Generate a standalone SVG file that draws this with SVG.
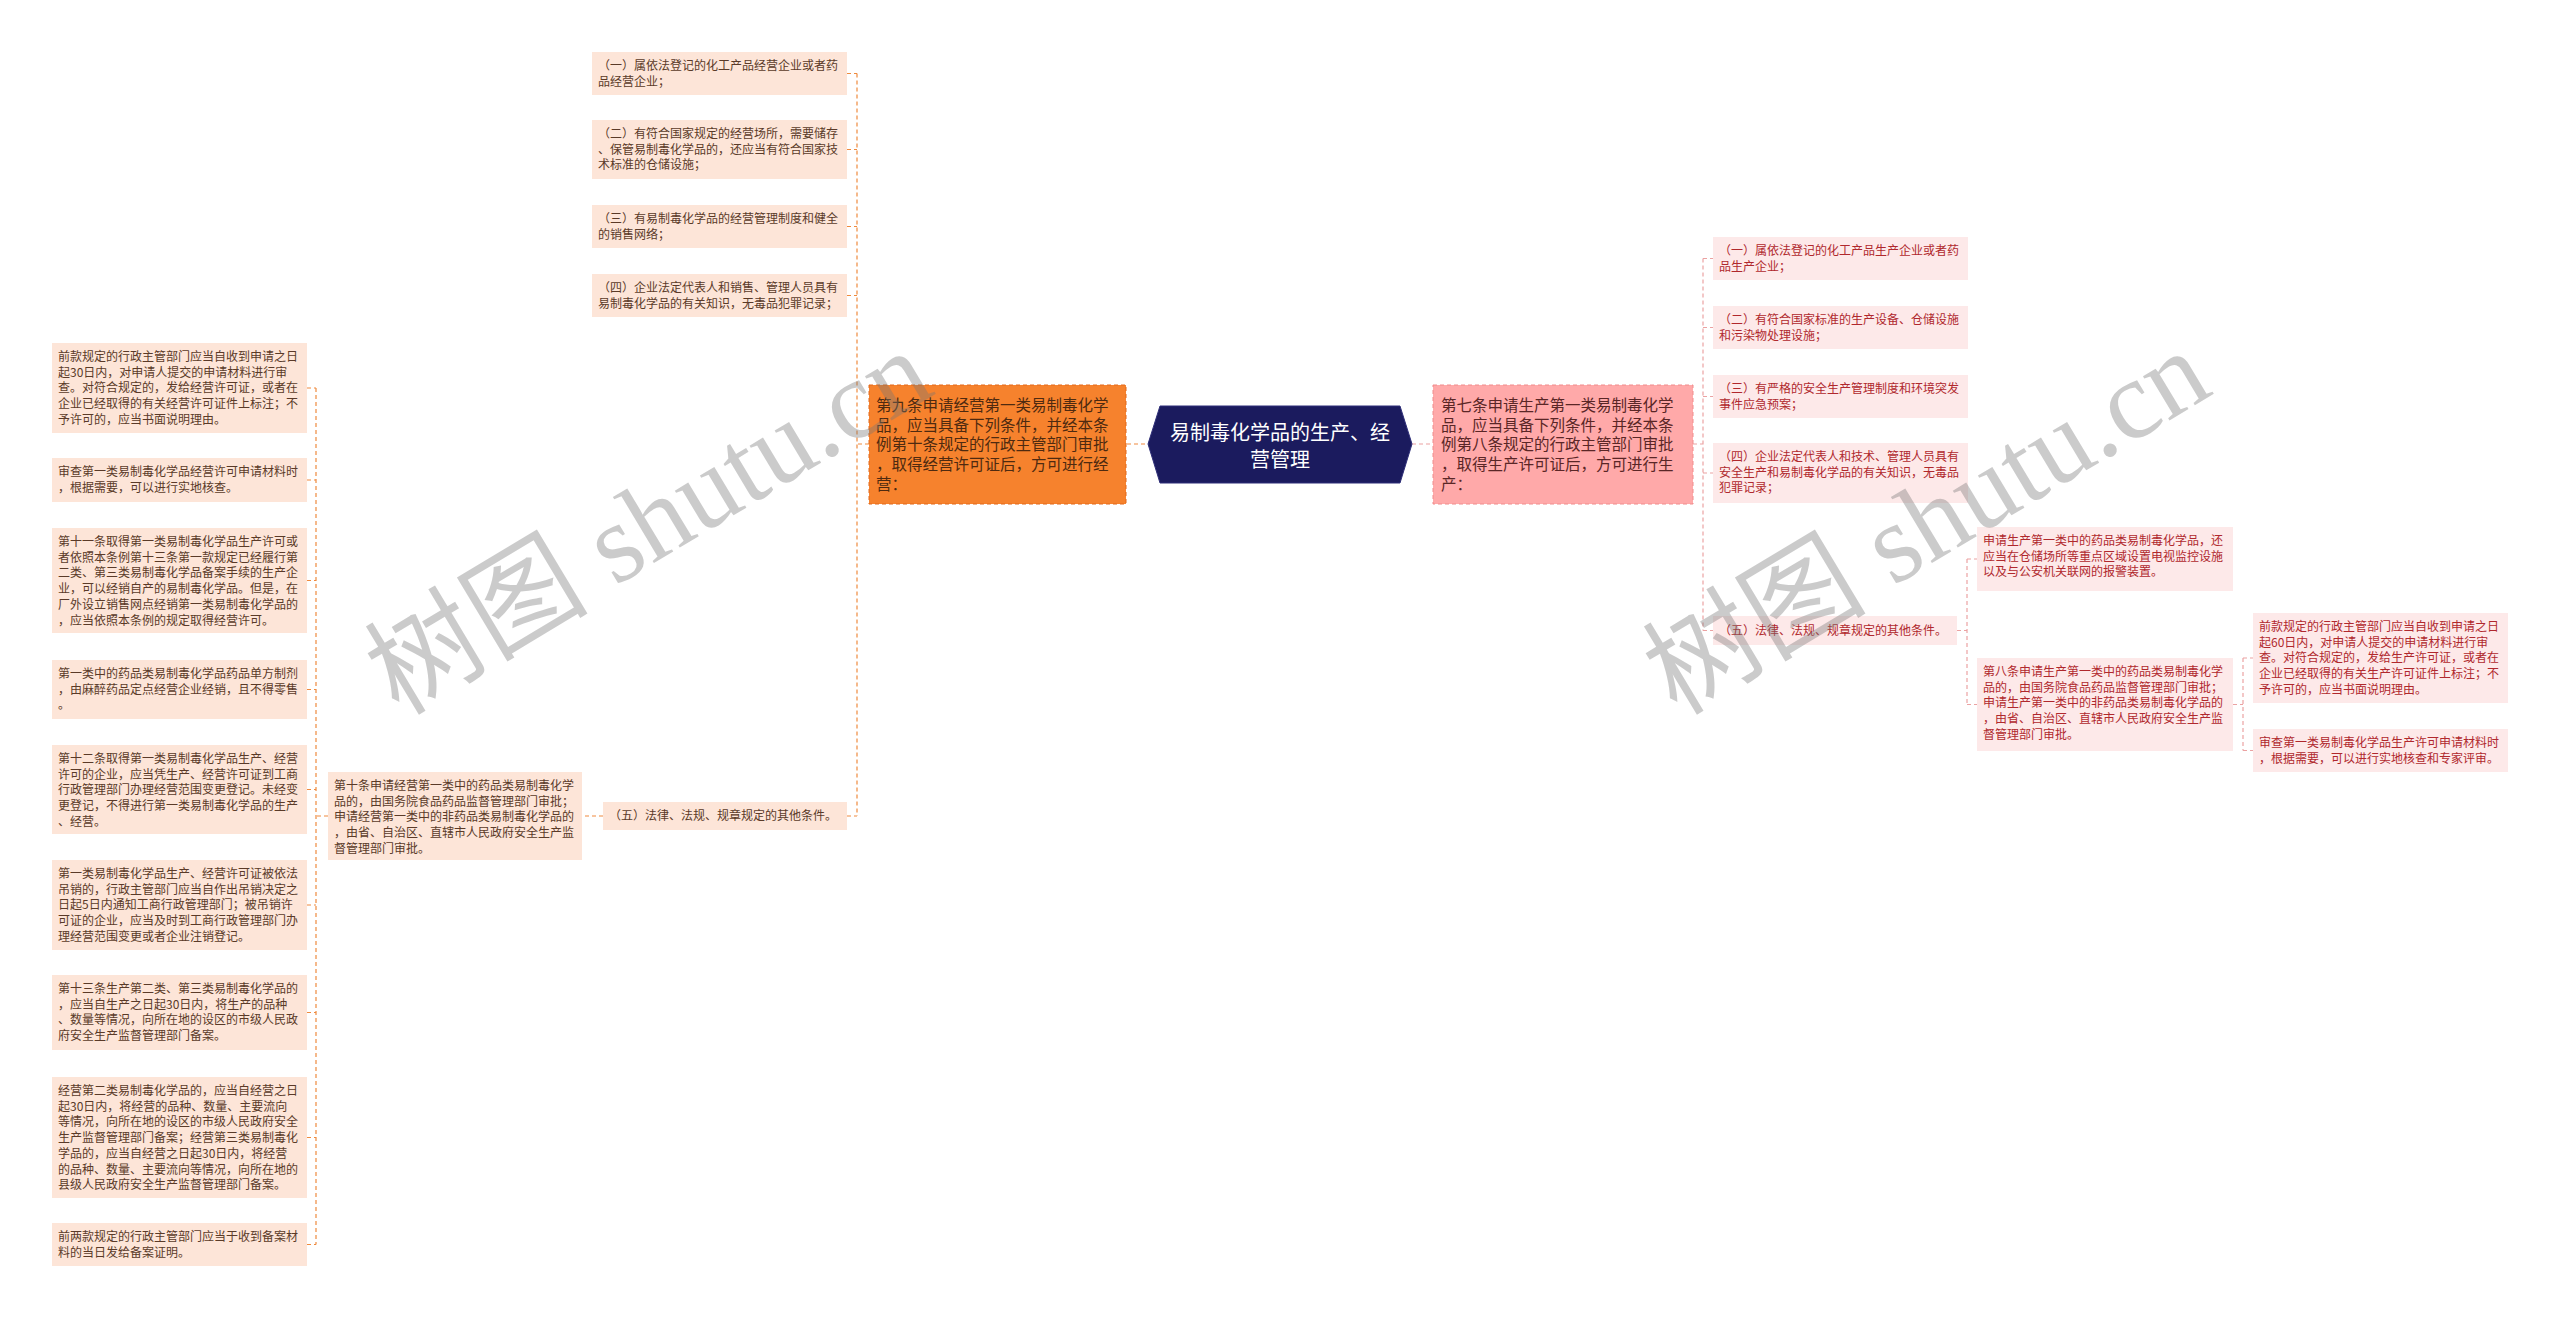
<svg xmlns="http://www.w3.org/2000/svg" width="2560" height="1318" viewBox="0 0 2560 1318">
<style>
text{font-family:"Noto Sans CJK SC","Noto Sans",sans-serif;}
.lb{fill:#fde5d8;}
.lt{font-size:12px;fill:#5a3a28;}
.rb{fill:#fde9e9;}
.rt{font-size:12px;fill:#b0282d;}
.cl{fill:none;stroke:#ef8a3e;stroke-width:1.2;stroke-dasharray:4 3;}
.cr{fill:none;stroke:#eba2a2;stroke-width:1.2;stroke-dasharray:4 3;}
.wm{font-family:"Liberation Serif","Noto Sans CJK SC",serif;font-size:112px;fill:#777;fill-opacity:0.38;}
</style>
<rect width="2560" height="1318" fill="#ffffff"/>

<g id="connectors">
<path class="cl" d="M1127,444H1148 M869,444H857 M857,73.5V816 M847,73.5H857 M847,149.5H857 M847,226.5H857 M847,295.5H857 M847,816H857 M603,816H582 M328,816H316 M316,388V1244.5 M307,388H316 M307,480H316 M307,580.5H316 M307,689.5H316 M307,789.5H316 M307,905H316 M307,1012.5H316 M307,1137.5H316 M307,1244.5H316"/>
<path class="cr" d="M1412,444H1433 M1693,444H1703 M1703,258.5V630.5 M1703,258.5H1713 M1703,327.5H1713 M1703,396.5H1713 M1703,473H1713 M1703,630.5H1713 M1957,630.5H1967 M1967,559V704.5 M1967,559H1977 M1967,704.5H1977 M2233,704.5H2243 M2243,658V750.5 M2243,658H2253 M2243,750.5H2253"/>
</g>

<g id="root">
<polygon points="1148,444 1160,406 1400,406 1412,444 1400,483 1160,483" fill="#1b1b5e" stroke="#2e2e78" stroke-width="1"/>
<text x="1280" y="440" text-anchor="middle" font-size="20" fill="#ffffff">易制毒化学品的生产、经</text>
<text x="1280" y="467" text-anchor="middle" font-size="20" fill="#ffffff">营管理</text>
</g>

<g id="n-left">
<rect x="869" y="385" width="257" height="119" fill="#f6822d" stroke="#e2691a" stroke-width="1" stroke-dasharray="4 3"/>
<text font-size="15.5" fill="#4e2a10">
<tspan x="876" y="411">第九条申请经营第一类易制毒化学</tspan>
<tspan x="876" y="430.7">品，应当具备下列条件，并经本条</tspan>
<tspan x="876" y="450.4">例第十条规定的行政主管部门审批</tspan>
<tspan x="876" y="470.1">，取得经营许可证后，方可进行经</tspan>
<tspan x="876" y="489.8">营：</tspan>
</text>
</g>

<g id="n-right">
<rect x="1433" y="385" width="260" height="119" fill="#ffa9a9" stroke="#f08c8c" stroke-width="1" stroke-dasharray="4 3"/>
<text font-size="15.5" fill="#5a2626">
<tspan x="1441" y="411">第七条申请生产第一类易制毒化学</tspan>
<tspan x="1441" y="430.7">品，应当具备下列条件，并经本条</tspan>
<tspan x="1441" y="450.4">例第八条规定的行政主管部门审批</tspan>
<tspan x="1441" y="470.1">，取得生产许可证后，方可进行生</tspan>
<tspan x="1441" y="489.8">产：</tspan>
</text>
</g>

<g id="l1"><rect class="lb" x="592" y="52" width="255" height="43"/>
<text class="lt"><tspan x="598" y="70">（一）属依法登记的化工产品经营企业或者药</tspan><tspan x="598" y="85.7">品经营企业；</tspan></text></g>
<g id="l2"><rect class="lb" x="592" y="120" width="255" height="59"/>
<text class="lt"><tspan x="598" y="138">（二）有符合国家规定的经营场所，需要储存</tspan><tspan x="598" y="153.7">、保管易制毒化学品的，还应当有符合国家技</tspan><tspan x="598" y="169.4">术标准的仓储设施；</tspan></text></g>
<g id="l3"><rect class="lb" x="592" y="205" width="255" height="43"/>
<text class="lt"><tspan x="598" y="223">（三）有易制毒化学品的经营管理制度和健全</tspan><tspan x="598" y="238.7">的销售网络；</tspan></text></g>
<g id="l4"><rect class="lb" x="592" y="274" width="255" height="43"/>
<text class="lt"><tspan x="598" y="292">（四）企业法定代表人和销售、管理人员具有</tspan><tspan x="598" y="307.7">易制毒化学品的有关知识，无毒品犯罪记录；</tspan></text></g>
<g id="l5"><rect class="lb" x="603" y="802" width="244" height="28"/>
<text class="lt"><tspan x="609" y="820">（五）法律、法规、规章规定的其他条件。</tspan></text></g>

<g id="l6"><rect class="lb" x="328" y="772" width="254" height="88"/>
<text class="lt"><tspan x="334" y="790">第十条申请经营第一类中的药品类易制毒化学</tspan><tspan x="334" y="805.7">品的，由国务院食品药品监督管理部门审批；</tspan><tspan x="334" y="821.4">申请经营第一类中的非药品类易制毒化学品的</tspan><tspan x="334" y="837.1">，由省、自治区、直辖市人民政府安全生产监</tspan><tspan x="334" y="852.8">督管理部门审批。</tspan></text></g>

<g id="c1"><rect class="lb" x="52" y="343" width="255" height="90"/>
<text class="lt"><tspan x="58" y="361">前款规定的行政主管部门应当自收到申请之日</tspan><tspan x="58" y="376.7">起30日内，对申请人提交的申请材料进行审</tspan><tspan x="58" y="392.4">查。对符合规定的，发给经营许可证，或者在</tspan><tspan x="58" y="408.1">企业已经取得的有关经营许可证件上标注；不</tspan><tspan x="58" y="423.8">予许可的，应当书面说明理由。</tspan></text></g>
<g id="c2"><rect class="lb" x="52" y="458" width="255" height="44"/>
<text class="lt"><tspan x="58" y="476">审查第一类易制毒化学品经营许可申请材料时</tspan><tspan x="58" y="491.7">，根据需要，可以进行实地核查。</tspan></text></g>
<g id="c3"><rect class="lb" x="52" y="528" width="255" height="105"/>
<text class="lt"><tspan x="58" y="546">第十一条取得第一类易制毒化学品生产许可或</tspan><tspan x="58" y="561.7">者依照本条例第十三条第一款规定已经履行第</tspan><tspan x="58" y="577.4">二类、第三类易制毒化学品备案手续的生产企</tspan><tspan x="58" y="593.1">业，可以经销自产的易制毒化学品。但是，在</tspan><tspan x="58" y="608.8">厂外设立销售网点经销第一类易制毒化学品的</tspan><tspan x="58" y="624.5">，应当依照本条例的规定取得经营许可。</tspan></text></g>
<g id="c4"><rect class="lb" x="52" y="660" width="255" height="59"/>
<text class="lt"><tspan x="58" y="678">第一类中的药品类易制毒化学品药品单方制剂</tspan><tspan x="58" y="693.7">，由麻醉药品定点经营企业经销，且不得零售</tspan><tspan x="58" y="709.4">。</tspan></text></g>
<g id="c5"><rect class="lb" x="52" y="745" width="255" height="89"/>
<text class="lt"><tspan x="58" y="763">第十二条取得第一类易制毒化学品生产、经营</tspan><tspan x="58" y="778.7">许可的企业，应当凭生产、经营许可证到工商</tspan><tspan x="58" y="794.4">行政管理部门办理经营范围变更登记。未经变</tspan><tspan x="58" y="810.1">更登记，不得进行第一类易制毒化学品的生产</tspan><tspan x="58" y="825.8">、经营。</tspan></text></g>
<g id="c6"><rect class="lb" x="52" y="860" width="255" height="90"/>
<text class="lt"><tspan x="58" y="878">第一类易制毒化学品生产、经营许可证被依法</tspan><tspan x="58" y="893.7">吊销的，行政主管部门应当自作出吊销决定之</tspan><tspan x="58" y="909.4">日起5日内通知工商行政管理部门；被吊销许</tspan><tspan x="58" y="925.1">可证的企业，应当及时到工商行政管理部门办</tspan><tspan x="58" y="940.8">理经营范围变更或者企业注销登记。</tspan></text></g>
<g id="c7"><rect class="lb" x="52" y="975" width="255" height="75"/>
<text class="lt"><tspan x="58" y="993">第十三条生产第二类、第三类易制毒化学品的</tspan><tspan x="58" y="1008.7">，应当自生产之日起30日内，将生产的品种</tspan><tspan x="58" y="1024.4">、数量等情况，向所在地的设区的市级人民政</tspan><tspan x="58" y="1040.1">府安全生产监督管理部门备案。</tspan></text></g>
<g id="c8"><rect class="lb" x="52" y="1077" width="255" height="121"/>
<text class="lt"><tspan x="58" y="1095">经营第二类易制毒化学品的，应当自经营之日</tspan><tspan x="58" y="1110.7">起30日内，将经营的品种、数量、主要流向</tspan><tspan x="58" y="1126.4">等情况，向所在地的设区的市级人民政府安全</tspan><tspan x="58" y="1142.1">生产监督管理部门备案；经营第三类易制毒化</tspan><tspan x="58" y="1157.8">学品的，应当自经营之日起30日内，将经营</tspan><tspan x="58" y="1173.5">的品种、数量、主要流向等情况，向所在地的</tspan><tspan x="58" y="1189.2">县级人民政府安全生产监督管理部门备案。</tspan></text></g>
<g id="c9"><rect class="lb" x="52" y="1223" width="255" height="43"/>
<text class="lt"><tspan x="58" y="1241">前两款规定的行政主管部门应当于收到备案材</tspan><tspan x="58" y="1256.7">料的当日发给备案证明。</tspan></text></g>

<g id="r1"><rect class="rb" x="1713" y="237" width="255" height="43"/>
<text class="rt"><tspan x="1719" y="255">（一）属依法登记的化工产品生产企业或者药</tspan><tspan x="1719" y="270.7">品生产企业；</tspan></text></g>
<g id="r2"><rect class="rb" x="1713" y="306" width="255" height="43"/>
<text class="rt"><tspan x="1719" y="324">（二）有符合国家标准的生产设备、仓储设施</tspan><tspan x="1719" y="339.7">和污染物处理设施；</tspan></text></g>
<g id="r3"><rect class="rb" x="1713" y="375" width="255" height="43"/>
<text class="rt"><tspan x="1719" y="393">（三）有严格的安全生产管理制度和环境突发</tspan><tspan x="1719" y="408.7">事件应急预案；</tspan></text></g>
<g id="r4"><rect class="rb" x="1713" y="443" width="255" height="60"/>
<text class="rt"><tspan x="1719" y="461">（四）企业法定代表人和技术、管理人员具有</tspan><tspan x="1719" y="476.7">安全生产和易制毒化学品的有关知识，无毒品</tspan><tspan x="1719" y="492.4">犯罪记录；</tspan></text></g>
<g id="r5"><rect class="rb" x="1713" y="616" width="244" height="29"/>
<text class="rt"><tspan x="1719" y="635">（五）法律、法规、规章规定的其他条件。</tspan></text></g>
<g id="r6"><rect class="rb" x="1977" y="527" width="256" height="64"/>
<text class="rt"><tspan x="1983" y="545">申请生产第一类中的药品类易制毒化学品，还</tspan><tspan x="1983" y="560.7">应当在仓储场所等重点区域设置电视监控设施</tspan><tspan x="1983" y="576.4">以及与公安机关联网的报警装置。</tspan></text></g>
<g id="r7"><rect class="rb" x="1977" y="658" width="256" height="93"/>
<text class="rt"><tspan x="1983" y="676">第八条申请生产第一类中的药品类易制毒化学</tspan><tspan x="1983" y="691.7">品的，由国务院食品药品监督管理部门审批；</tspan><tspan x="1983" y="707.4">申请生产第一类中的非药品类易制毒化学品的</tspan><tspan x="1983" y="723.1">，由省、自治区、直辖市人民政府安全生产监</tspan><tspan x="1983" y="738.8">督管理部门审批。</tspan></text></g>
<g id="r8"><rect class="rb" x="2253" y="613" width="255" height="90"/>
<text class="rt"><tspan x="2259" y="631">前款规定的行政主管部门应当自收到申请之日</tspan><tspan x="2259" y="646.7">起60日内，对申请人提交的申请材料进行审</tspan><tspan x="2259" y="662.4">查。对符合规定的，发给生产许可证，或者在</tspan><tspan x="2259" y="678.1">企业已经取得的有关生产许可证件上标注；不</tspan><tspan x="2259" y="693.8">予许可的，应当书面说明理由。</tspan></text></g>
<g id="r9"><rect class="rb" x="2253" y="729" width="255" height="43"/>
<text class="rt"><tspan x="2259" y="747">审查第一类易制毒化学品生产许可申请材料时</tspan><tspan x="2259" y="762.7">，根据需要，可以进行实地核查和专家评审。</tspan></text></g>

<g id="watermarks">
<text class="wm" x="649" y="560" text-anchor="middle" transform="rotate(-31 649 523)">树图 shutu.cn</text>
<text class="wm" x="1927" y="560" text-anchor="middle" transform="rotate(-31 1927 523)">树图 shutu.cn</text>
</g>
</svg>
